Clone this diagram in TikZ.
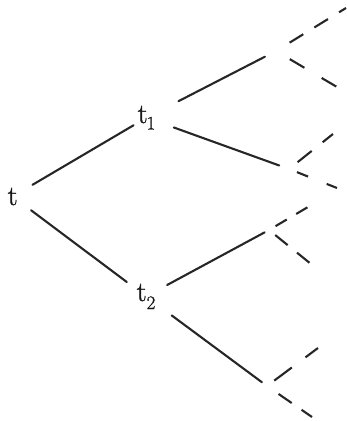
\documentclass[tikz,border=0pt]{standalone}
\usepackage{fontspec}
\newfontfamily\lblfont{Latin Modern Roman}[FakeBold=1.2]
\newcommand{\subdig}[2]{\raisebox{-#1}{\fontsize{19}{22}\selectfont #2}}
\begin{document}
\begin{tikzpicture}[x=1pt,y=-1pt,
  lbl/.style={inner sep=0pt, anchor=base west, text=black!90, font=\lblfont\fontsize{28}{32}\selectfont},
  solid edge/.style={line width=2.1pt, draw=black!85, line cap=round},
  dash edge/.style={line width=2.1pt, draw=black!85}]
\useasboundingbox (0,0) rectangle (346,421);
\node[lbl] (t)  at (7.5,205) {t};
\node[lbl] (t1) at (137.5,123) {t\kern-1pt\subdig{6.5pt}{1}};
\node[lbl] (t2) at (136.5,301) {t\kern0pt\subdig{8pt}{2}};
\coordinate (j1) at (276,51);
\coordinate (j2) at (289,169);
\coordinate (j3) at (269,230);
\coordinate (j4) at (267,386);
\coordinate (l1) at (346,8);
\coordinate (l2) at (337,87);
\coordinate (l3) at (333,134);
\coordinate (l4) at (337,188);
\coordinate (l5) at (308,207);
\coordinate (l6) at (311,264);
\coordinate (l7) at (318,348);
\coordinate (l8) at (312,417);
\draw[solid edge, shorten <=23pt, shorten >=15pt] (t.center) -- (t1.center);
\draw[solid edge, shorten <=23pt, shorten >=24pt] (t.center) -- (t2.center);
\draw[solid edge, shorten <=36pt, shorten >=12.5pt] (t1.center) -- (j1);
\draw[solid edge, shorten <=29pt, shorten >=10.4pt] (t1.center) -- (j2);
\draw[solid edge, shorten <=24pt, shorten >=5pt] (t2.center) -- (j3);
\draw[solid edge, shorten <=32pt, shorten >=6.4pt] (t2.center) -- (j4);
\draw[dash edge, dash pattern=on 16pt off 13pt, shorten <=16pt] (j1) -- (l1);
\draw[dash edge, dash pattern=on 17pt off 20pt, shorten <=16pt] (j1) -- (l2);
\draw[dash edge, dash pattern=on 18pt off 14pt, shorten <=11pt] (j2) -- (l3);
\draw[dash edge, dash pattern=on 12pt off 20pt, shorten <=8.5pt] (j2) -- (l4);
\draw[dash edge, dash pattern=on 13pt off 11pt, shorten <=7.6pt] (j3) -- (l5);
\draw[dash edge, dash pattern=on 16pt off 12pt, shorten <=8pt] (j3) -- (l6);
\draw[dash edge, dash pattern=on 22pt off 17pt, shorten <=9pt] (j4) -- (l7);
\draw[dash edge, dash pattern=on 16pt off 12pt, shorten <=14pt] (j4) -- (l8);
\end{tikzpicture}
\end{document}
